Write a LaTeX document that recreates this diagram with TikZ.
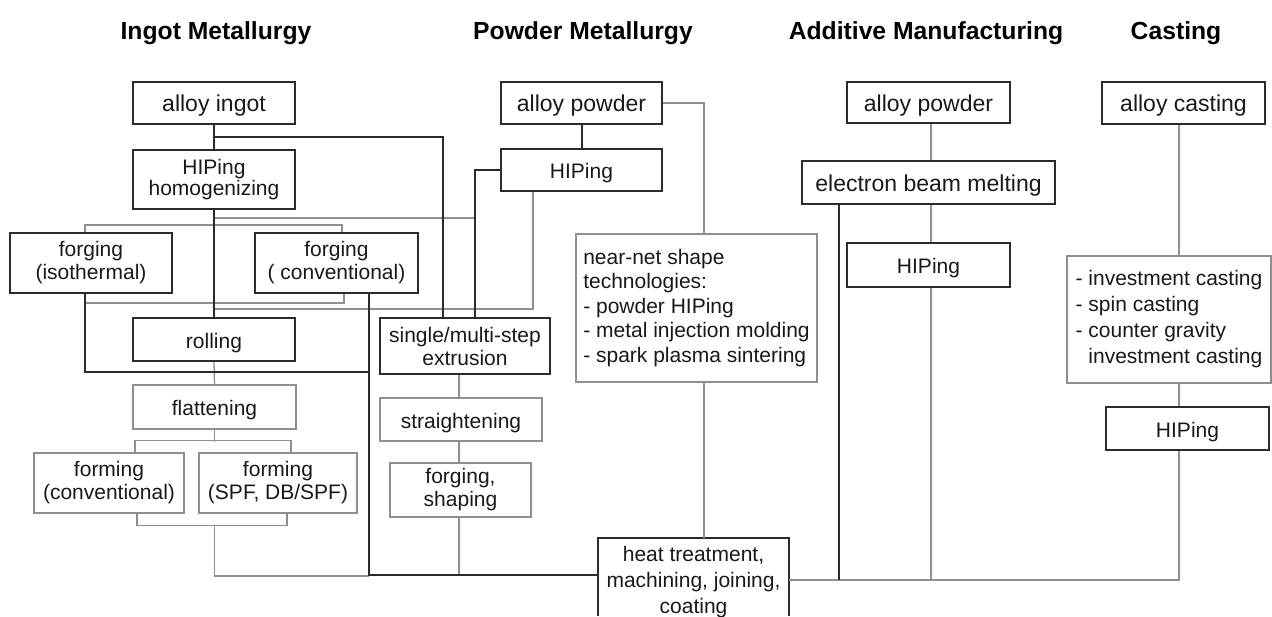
\documentclass[tikz,border=0pt]{standalone}
\usepackage{fontspec}
\setmainfont{Liberation Sans}
\usetikzlibrary{calc}
\definecolor{dk}{HTML}{2B2B2B}
\definecolor{lt}{HTML}{8F8F8F}
\newcommand\fsz[2]{\fontsize{#1}{#2}\selectfont}
\begin{document}
\begin{tikzpicture}[x=1pt,y=-1pt,
  box/.style={rectangle, inner sep=0pt, align=center, font=\fsz{21}{23}, text=black!90},
  one/.style={text height=20pt, text depth=3pt},
  dbox/.style={box, draw=dk, line width=2pt},
  lbox/.style={box, draw=lt, line width=1.4pt},
  dline/.style={draw=dk, line width=2pt},
  lline/.style={draw=lt, line width=1.3pt},
  ttl/.style={font=\bfseries\fsz{24.7}{28}, anchor=base, inner sep=0pt, text=black}]
\fill[white] (0,0) rectangle (1272,616);
\useasboundingbox (0,0) rectangle (1272,616);
\coordinate (bot) at (0,616);
\coordinate (hb) at (0,580);
\coordinate (k372) at (0,372);

% titles
\node[ttl] (t1) at (216,39) {Ingot Metallurgy};
\node[ttl] (t2) at (583,39) {Powder Metallurgy};
\node[ttl] (t3) at (926,39) {Additive Manufacturing};
\node[ttl] (t4) at (1176,39) {Casting};

% ingot metallurgy
\node[dbox, one, minimum width=162, minimum height=42, font=\fsz{23}{26}] (ingot) at (214,103) {alloy ingot};
\node[dbox, minimum width=162, minimum height=59, font=\fsz{21}{21}] (homog) at (214,179.5) {HIPing\\homogenizing};
\node[dbox, minimum width=162, minimum height=60] (fiso) at (91,263) {forging\\(isothermal)};
\node[dbox, minimum width=163, minimum height=60] (fconv) at (336.5,263) {forging\\( conventional)};
\node[dbox, one, minimum width=162, minimum height=43] (roll) at (214,339.5) {rolling};
\node[lbox, one, minimum width=163, minimum height=44] (flat) at (214.5,407) {flattening};
\node[lbox, minimum width=150, minimum height=60] (fmc) at (109,483) {forming\\(conventional)};
\node[lbox, minimum width=158, minimum height=60] (fms) at (278,483) {forming\\(SPF, DB/SPF)};

% powder metallurgy
\node[dbox, one, minimum width=161, minimum height=42, font=\fsz{23}{26}] (powder) at (581.5,103) {alloy powder};
\node[dbox, one, minimum width=161, minimum height=42] (hippm) at (581.5,170) {HIPing};
\node[dbox, minimum width=170, minimum height=56] (extr) at (465,346) {single/multi-step\\extrusion};
\node[lbox, one, minimum width=162, minimum height=43] (str) at (461,419.5) {straightening};
\node[lbox, minimum width=141, minimum height=54] (fsh) at (460.5,490) {forging,\\shaping};
\node[lbox, minimum width=241, minimum height=148, align=left, font=\fsz{21}{24.5}] (near) at (696.5,308)
  {near-net shape\\technologies:\\- powder HIPing\\- metal injection molding\hspace*{7pt}\\- spark plasma sintering};

% final box (bottom runs off the page)
\node[box, minimum width=191, minimum height=88, font=\fsz{21}{26}] (heat) at (693.5,582) {heat treatment,\\machining, joining,\\coating};
\draw[dline] (heat.north west |- bot) -- (heat.north west) -- (heat.north east) -- (heat.north east |- bot);
\coordinate (hw) at ([yshift=7pt]heat.west);
\coordinate (he) at ([yshift=2pt]heat.east);

% additive manufacturing
\node[dbox, one, minimum width=163, minimum height=41, font=\fsz{23}{26}] (pam) at (928.5,102.5) {alloy powder};
\node[dbox, one, minimum width=253, minimum height=43, font=\fsz{23}{26}] (ebm) at (928.5,182.5) {electron beam melting};
\node[dbox, one, minimum width=163, minimum height=44] (hipam) at (928.5,265) {HIPing};

% casting
\node[dbox, one, minimum width=163, minimum height=42, font=\fsz{23}{26}] (cast) at (1183.5,103) {alloy casting};
\node[lbox, minimum width=204, minimum height=127, align=left, font=\fsz{21}{26}] (castl) at (1169,319.5)
  {- investment casting\\- spin casting\\- counter gravity\\\hphantom{- }investment casting};
\node[dbox, one, minimum width=163, minimum height=43] (hipc) at (1187.5,428.5) {HIPing};

% junction coordinates
\coordinate (cv) at ([xshift=32.5pt]fconv.south);
\coordinate (pmx) at ([xshift=10pt]extr.north);
\coordinate (c459) at ([xshift=-6pt]extr.south);
\coordinate (fb) at ([yshift=-12pt]fmc.south -| flat.south);

% thin grey connectors
\draw[lline] ([yshift=-8pt]homog.south) -- ([yshift=-8pt]homog.south -| pmx);
\draw[lline] ([xshift=-6pt]fiso.north) -- ++(0,-7) -| ([xshift=5.5pt]fconv.north);
\draw[lline] ([xshift=-6pt,yshift=-9pt]fiso.south) -| ([xshift=7.5pt]fconv.south);
\draw[lline] ([xshift=-48.5pt]hippm.south) |- ([yshift=8pt]roll.north);
\draw[lline] (roll.south) -- (flat.north);
\draw[lline] (flat.south) -- ++(0,12);
\draw[lline] ([xshift=26pt]fmc.north) -- ++(0,-12) -| ([xshift=13pt]fms.north);
\draw[lline] ([xshift=28pt]fmc.south) -- ++(0,12) -| ([xshift=9pt]fms.south);
\draw[lline] (fb) |- ([yshift=-1pt]cv |- hw);
\draw[lline] (powder.east) -| ([xshift=7.5pt]near.north);
\draw[lline] ([xshift=7.5pt]near.south) -- ([xshift=7.5pt]near.south |- heat.north);
\draw[lline] (c459) -- (c459 |- str.north);
\draw[lline] (c459 |- str.south) -- (c459 |- fsh.north);
\draw[lline] (c459 |- fsh.south) -- (c459 |- hw);
\draw[lline] ([xshift=2.5pt]pam.south) -- ([xshift=2.5pt]ebm.north);
\draw[lline] ([xshift=2.5pt]ebm.south) -- ([xshift=2.5pt]hipam.north);
\draw[lline] ([xshift=2.5pt]hipam.south) -- ([xshift=2.5pt]hipam.south |- hb);
\draw[lline] (he) -| ([xshift=-8.5pt]hipc.south);
\draw[lline] ([xshift=-4.5pt]cast.south) -- ([xshift=-4.5pt]cast.south |- castl.north);
\draw[lline] ([xshift=10pt]castl.south) -- ([xshift=10pt]castl.south |- hipc.north);

% thick dark connectors
\draw[dline] (ingot.south) -- (homog.north);
\draw[dline] ([yshift=-12pt]ingot.south) -| ([xshift=-22pt]extr.north);
\draw[dline] (homog.south) -- (roll.north);
\draw[dline] ([xshift=-6pt]fiso.south) |- (cv |- k372);
\draw[dline] (cv) -- (cv |- hw) -- (hw);
\draw[dline] (hippm.west) -| (pmx);
\draw[dline] (powder.south) -- (hippm.north);
\draw[dline] ([xshift=-89.5pt]ebm.south) -- ([xshift=-89.5pt]ebm.south |- hb);
\end{tikzpicture}
\end{document}
